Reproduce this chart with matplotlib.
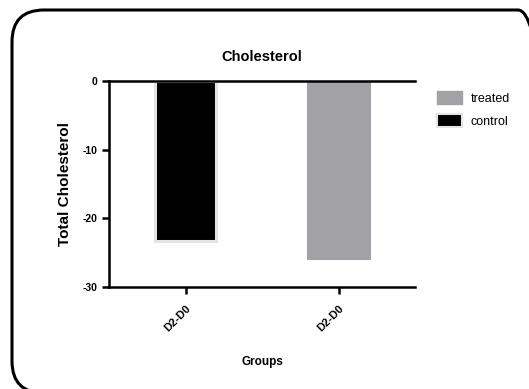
import matplotlib.pyplot as plt
from matplotlib.patches import FancyBboxPatch, Patch
from matplotlib.transforms import IdentityTransform

plt.rcParams['font.family'] = ['Liberation Sans', 'DejaVu Sans']
plt.rcParams['font.weight'] = 'bold'
plt.rcParams['axes.unicode_minus'] = False

# data
groups = ["D2-D0", "D2-D0"]
series = ["control", "treated"]
values = [-23.3, -25.8]
colors = ["#000000", "#a2a2a6"]
edges = ["#e4e4e4", "#a2a2a6"]
y_ticks = [0, -10, -20, -30]

fig = plt.figure(figsize=(5.29, 3.89), dpi=100)
ax = fig.add_axes([0.206, 0.262, 0.579, 0.530])

# rounded frame around the whole graph (runs off the right and bottom edge)
frame = FancyBboxPatch((12, -4), 538, 383, boxstyle="round,pad=0,rounding_size=32",
                       transform=IdentityTransform(), fill=False, lw=2.2, ec="black")
fig.patches.append(frame)

x = range(len(groups))
ax.bar(x, values, width=0.4, color=colors, edgecolor=edges, linewidth=2.2)

ax.set_xlim(-0.5, 1.5)
ax.set_ylim(-30, 0)
ax.set_yticks(y_ticks)
ax.set_xticks(list(x))
ax.set_xticklabels(groups, rotation=45, ha="right", rotation_mode="anchor", fontsize=8)
ax.tick_params(axis="y", labelsize=7.5, width=1.8, length=5, pad=3)
ax.tick_params(axis="x", width=1.8, length=5, pad=7)

ax.spines["right"].set_visible(False)
for s in ["left", "bottom", "top"]:
    ax.spines[s].set_linewidth(1.8)

ax.set_title("Cholesterol", fontsize=10.5, fontweight="bold", pad=14)
ax.set_ylabel("Total Cholesterol", fontsize=11, fontweight="bold", labelpad=8)
ax.set_xlabel("Groups", fontsize=8.5, fontweight="bold", labelpad=16)

handles = [Patch(facecolor=colors[1], edgecolor=edges[1], label=series[1]),
           Patch(facecolor=colors[0], edgecolor=edges[0], linewidth=1.5, label=series[0])]
leg = ax.legend(handles=handles, loc="upper left", bbox_to_anchor=(1.055, 0.975), frameon=False,
                prop={"size": 9, "weight": "normal"}, handlelength=2.0, handleheight=1.2,
                handletextpad=0.7, labelspacing=0.75, borderaxespad=0)

fig.savefig("out.png", dpi=100)
